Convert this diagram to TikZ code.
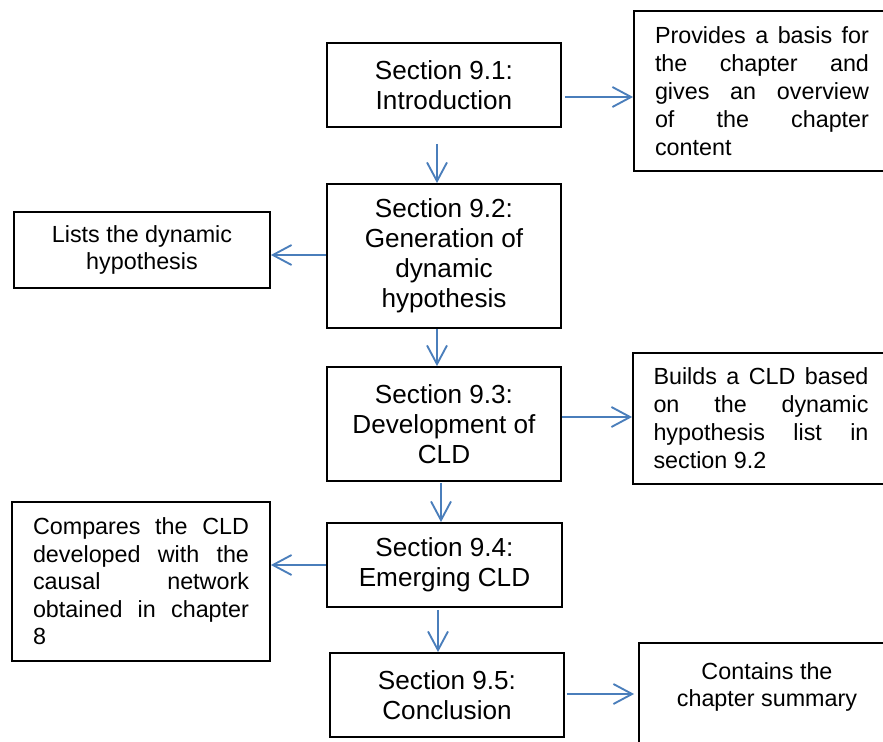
\documentclass[tikz,border=0pt]{standalone}
\usepackage{fontspec}
\setmainfont{Liberation Sans}
\usetikzlibrary{arrows.meta,calc}
\definecolor{arrowblue}{HTML}{4A7EBB}
\newcommand{\notefont}[1]{\fontsize{17.5pt}{#1}\selectfont
  \tolerance=10000\relax\hyphenpenalty=10000\relax}
\begin{document}
\begin{tikzpicture}[x=0.75pt,y=-0.75pt,
  wh/.style 2 args={minimum width=#1*0.75pt, minimum height=#2*0.75pt},
  box/.style={draw=black, line width=1.4pt, inner sep=0pt, rectangle},
  secbox/.style={box, align=center,
    font=\fontsize{19.6pt}{22.5pt}\selectfont},
  notebox/.style={box, align=justify, text width=#1*0.75pt,
    font=\notefont{21pt}},
  arr/.style={draw=arrowblue, line width=1.4pt,
    -{Straight Barb[length=14pt, width=15pt]}}]

\path[use as bounding box, fill=white] (0,0) rectangle (883,742);

% main chain of sections
\node[secbox, wh={234}{84}]  (s1) at (444,85)    {Section 9.1:\\Introduction};
\node[secbox, wh={234}{144}] (s2) at (444,256)   {Section 9.2:\\Generation of\\dynamic\\hypothesis};
\node[secbox, wh={234}{114}] (s3) at (444,424)   {Section 9.3:\\Development of\\CLD};
\node[secbox, wh={235}{84}]  (s4) at (444.5,565) {Section 9.4:\\Emerging CLD};
\node[secbox, wh={234}{84}]  (s5) at (447,695)   {Section 9.5:\\Conclusion};

% notes beside the sections
\node[notebox=214, wh={256}{160}] (r1) at (762,91)
  {Provides a basis for\linebreak the chapter and\linebreak gives an overview\linebreak of the chapter\linebreak content};
\node[box, align=center, wh={256}{76},
  font=\fontsize{17.5pt}{20.5pt}\selectfont] (l1) at (142,250)
  {Lists the dynamic\\hypothesis};
\node[notebox=215, wh={256}{131}] (r2) at (761,418.5)
  {Builds a CLD based\linebreak on the dynamic\linebreak hypothesis list in\linebreak section 9.2};
\node[notebox=216, wh={258}{159}, font=\notefont{20.6pt}] (l2) at (141,581.5)
  {Compares the CLD\linebreak developed with the\linebreak causal network\linebreak obtained in chapter\linebreak 8};
\node[box, wh={256}{150},
  label={[anchor=north, align=center, inner sep=0pt, yshift=-15pt,
          font=\fontsize{17.5pt}{20.3pt}\selectfont]north:{Contains the\\chapter summary}}]
  (r3) at (767,718) {};

% connectors down the chain
\coordinate (d12) at ($(s1.south)+(-7,16)$);
\draw[arr] (d12) -- (d12 |- s2.north);
\coordinate (d23) at ($(s2.south)+(-7,0)$);
\draw[arr] (d23) -- (d23 |- s3.north);
\coordinate (d34) at ($(s3.south)+(-3,1)$);
\draw[arr] (d34) -- (d34 |- s4.north);
\coordinate (d45) at ($(s4.south)+(-6.5,2)$);
\draw[arr] (d45) -- (d45 |- s5.north);

% connectors to the notes
\coordinate (h1) at ($(s1.east)+(3,12)$);
\draw[arr] (h1) -- (h1 -| r1.west);
\coordinate (h2) at ($(s2.west)+(0,-1)$);
\draw[arr] (h2) -- (h2 -| l1.east);
\coordinate (h3) at ($(s3.east)+(0,-7)$);
\draw[arr] (h3) -- (h3 -| r2.west);
\coordinate (h4) at (s4.west);
\draw[arr] (h4) -- (h4 -| l2.east);
\coordinate (h5) at ($(s5.east)+(2,-1)$);
\draw[arr] (h5) -- ($(h5 -| r3.west)+(-4,0)$);
\end{tikzpicture}
\end{document}
